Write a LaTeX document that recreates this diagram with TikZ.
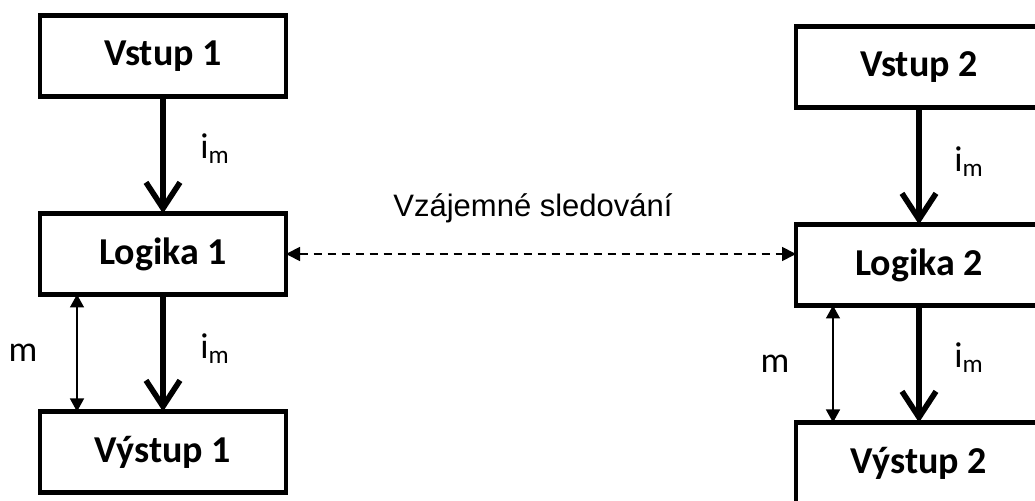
\documentclass[tikz,border=0pt]{standalone}
\usepackage{fontspec}
\setmainfont{Carlito}
\newfontfamily\arialfont{Liberation Sans}
\usetikzlibrary{arrows.meta}
\usetikzlibrary{calc}
\usetikzlibrary{positioning}

\begin{document}
\begin{tikzpicture}[x=0.5pt,y=-0.5pt,node distance=58.5pt,>={Triangle[length=6.5pt,width=7pt]}]
	\tikzstyle{blok}=[draw, rectangle, line width=2.4pt, minimum width=123pt, minimum height=40.5pt, outer sep=0pt, inner sep=0pt, font=\fontsize{19}{21}\selectfont\bfseries]
	\tikzstyle{tok}=[line width=2.8pt, -{Straight Barb[length=13pt,width=17pt]}]
	\tikzstyle{sled}=[line width=0.75pt, <->]
	\tikzstyle{popis}=[font=\fontsize{18}{20}\selectfont, inner sep=0pt]
	\useasboundingbox (0,0) rectangle (1035,501);
	\clip (0,0) rectangle (1035,501);
	% levy kanal
	\node[blok] (V1) at (163,56) {Vstup 1};
	\node[blok] (L1) [below=of V1] {Logika 1};
	\node[blok] (Y1) [below=of L1] {Výstup 1};
	% pravy kanal
	\node[blok] (V2) at (919,67) {Vstup 2};
	\node[blok] (L2) [below=of V2] {Logika 2};
	\node[blok] (Y2) [below=of L2] {Výstup 2};
	\path[tok]
		(V1) edge node[popis, midway, xshift=26pt, yshift=3pt] {i\textsubscript{m}} (L1)
		(L1) edge node[popis, midway, xshift=26pt, yshift=2pt] {i\textsubscript{m}} (Y1)
		(V2) edge node[popis, midway, xshift=25pt, yshift=2pt] {i\textsubscript{m}} (L2)
		(L2) edge node[popis, midway, xshift=25pt, yshift=3pt] {i\textsubscript{m}} (Y2);
	\draw[sled] ([xshift=18.5pt]L1.south west) -- node[popis, midway, xshift=-27pt] {m} ([xshift=18.5pt]Y1.north west);
	\draw[sled] ([xshift=18.5pt]L2.south west) -- node[popis, midway, xshift=-29pt] {m} ([xshift=18.5pt]Y2.north west);
	% vzajemne sledovani
	\draw[line width=0.9pt, dash pattern=on 4pt off 3pt, {Triangle[length=7pt,width=7pt]}-{Triangle[length=7pt,width=7pt]}]
		(L1.east) -- node[midway, xshift=-4pt, yshift=23pt, font=\arialfont\fontsize{15.5}{18}\selectfont] {Vzájemné sledování} (L1.east -| L2.west);
\end{tikzpicture}
\end{document}
